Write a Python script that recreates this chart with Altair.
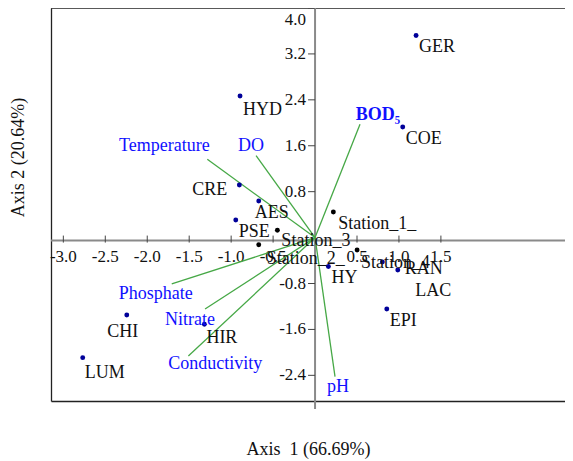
import altair as alt
import pandas as pd

# ---------------- data ----------------
species = ["GER", "HYD", "COE", "CRE", "AES", "PSE", "HY", "RAN", "LAC", "EPI", "CHI", "LUM", "HIR"]
species_x = [1.204, -0.894, 1.045, -0.902, -0.671, -0.945, 0.159, 0.986, 0.802, 0.855, -2.244, -2.769, -1.319]
species_y = [3.521, 2.467, 1.927, 0.916, 0.638, 0.307, -0.503, -0.564, -0.425, -1.244, -1.348, -2.092, -1.510]

stations = ["Station_1_", "Station_2_", "Station_3", "Station_4"]
station_x = [0.218, -0.671, -0.449, 0.501]
station_y = [0.446, -0.124, 0.127, -0.216]

variables = ["Temperature", "DO", "BOD\u2085", "Phosphate", "Nitrate", "Conductivity", "pH"]
var_x = [-1.284, -0.703, 0.536, -1.708, -1.311, -1.510, 0.238]
var_y = [1.364, 1.427, 1.974, -0.808, -1.244, -2.063, -2.423]

x_ticks = [-3.0, -2.5, -2.0, -1.5, -1.0, -0.5, 0.5, 1.0, 1.5]
y_ticks = [4.0, 3.2, 2.4, 1.6, 0.8, -0.8, -1.6, -2.4]

x_title = "Axis\u00a0\u00a01 (66.69%)"
y_title = "Axis 2 (20.64%)"

# ---------------- layout / style ----------------
W, H = 514, 393
FONT = "Liberation Serif"
BLUE_TXT = "#1010ff"
DOT_BLUE = "#000099"
GREEN = "#46a846"
GRAY = "#8a8a8a"

xs = alt.Scale(domain=[-3.147, 2.979], nice=False, zero=False)
ys = alt.Scale(domain=[-2.847, 4.0], nice=False, zero=False)
xa = alt.Axis(title=x_title, labels=False, ticks=False, grid=False, domain=True,
              domainColor="#222", domainWidth=1.3, titleFont=FONT, titleFontSize=18,
              titleFontWeight="normal", titleColor="#111", titleY=48, titleBaseline="middle")
ya = alt.Axis(title=y_title, labels=False, ticks=False, grid=False, domain=True,
              domainColor="#222", domainWidth=1.3, titleFont=FONT, titleFontSize=18,
              titleFontWeight="normal", titleColor="#111", titleX=-33, titleY=149,
              titleAngle=270, titleAlign="center", titleBaseline="middle")


def X(f):
    return alt.X(f, type="quantitative", scale=xs, axis=xa)


def Y(f):
    return alt.Y(f, type="quantitative", scale=ys, axis=ya)


sp = pd.DataFrame({"name": species, "x": species_x, "y": species_y})
st = pd.DataFrame({"name": stations, "x": station_x, "y": station_y})
vr = pd.DataFrame({"name": variables, "x": var_x, "y": var_y, "zero": 0.0})
xt = pd.DataFrame({"v": x_ticks, "label": [f"{v:.1f}" for v in x_ticks], "zero": 0.0})
yt = pd.DataFrame({"v": y_ticks, "label": [f"{v:.1f}" for v in y_ticks], "zero": 0.0})
origin = pd.DataFrame({"zero": [0.0]})

layers = []

# frame top border (left/bottom come from the axis domains)
layers.append(alt.Chart(origin).mark_rule(color="#222", strokeWidth=1.3).encode(
    x=alt.value(0), x2=alt.value(W), y=alt.value(0)))

# zero axis lines
layers.append(alt.Chart(origin).mark_rule(color=GRAY, strokeWidth=2, yOffset=3).encode(y=Y("zero")))
layers.append(alt.Chart(origin).mark_rule(color=GRAY, strokeWidth=2).encode(
    x=X("zero"), y=alt.value(0), y2=alt.value(H + 8)))

# tick marks
layers.append(alt.Chart(xt).mark_rule(color="#444", strokeWidth=1, yOffset=5, y2Offset=-2).encode(
    x=X("v"), y=Y("zero"), y2=alt.Y2("zero")))
layers.append(alt.Chart(yt).mark_rule(color="#444", strokeWidth=1, x2Offset=-7).encode(
    y=Y("v"), x=X("zero"), x2=alt.X2("zero")))

# tick labels
layers.append(alt.Chart(xt).mark_text(font=FONT, fontSize=17, dy=19, baseline="middle",
                                      align="center", color="#111").encode(
    x=X("v"), y=Y("zero"), text="label:N"))
layers.append(alt.Chart(yt).transform_filter("datum.v < 3.9").mark_text(
    font=FONT, fontSize=17, dx=-9, baseline="middle", align="right", color="#111").encode(
    x=X("zero"), y=Y("v"), text="label:N"))
layers.append(alt.Chart(yt).transform_filter("datum.v >= 3.9").mark_text(
    font=FONT, fontSize=17, dx=-9, dy=12, baseline="middle", align="right", color="#111").encode(
    x=X("zero"), y=Y("v"), text="label:N"))

# environmental vectors
layers.append(alt.Chart(vr).mark_rule(color=GREEN, strokeWidth=1.3).encode(
    x=X("zero"), y=Y("zero"), x2=alt.X2("x"), y2=alt.Y2("y")))

# points
layers.append(alt.Chart(sp).mark_circle(size=24, color=DOT_BLUE, opacity=1).encode(x=X("x"), y=Y("y")))
layers.append(alt.Chart(st).mark_circle(size=24, color="#000", opacity=1).encode(x=X("x"), y=Y("y")))

# labels
point_label_style = {
    "AES": ("left", -4, 12), "CRE": ("right", -12, 5), "CHI": ("center", -4, 17),
    "LUM": ("left", 2, 15), "HIR": ("left", 2, 14), "HYD": ("left", 3, 14),
    "RAN": ("left", 7, -1), "LAC": ("left", 33, 29),
    "Station_1_": ("left", 5, 12), "Station_2_": ("left", 8, 14),
    "Station_3": ("left", 4, 11), "Station_4": ("left", 4, 13),
}
var_label_style = {
    "Temperature": ("center", -43, -13), "DO": ("center", -5, -10),
    "BOD\u2085": ("center", 18, -9), "Phosphate": ("center", -16, 10),
    "Nitrate": ("center", -15, 11), "Conductivity": ("center", 27, 8),
    "pH": ("center", 3, 10),
}


def label_layer(df, name, align, dx, dy, color, weight="normal"):
    return alt.Chart(df).transform_filter(alt.datum.name == name).mark_text(
        font=FONT, fontSize=18, align=align, baseline="middle", dx=dx, dy=dy,
        color=color, fontWeight=weight).encode(x=X("x"), y=Y("y"), text="name:N")


for n in species:
    a, dx, dy = point_label_style.get(n, ("left", 3, 12))
    layers.append(label_layer(sp, n, a, dx, dy, "#111"))
for n in stations:
    a, dx, dy = point_label_style.get(n, ("left", 3, 12))
    layers.append(label_layer(st, n, a, dx, dy, "#111"))
for n in variables:
    a, dx, dy = var_label_style[n]
    w = "bold" if n.startswith("BOD") else "normal"
    layers.append(label_layer(vr, n, a, dx, dy, BLUE_TXT, w))

chart = alt.layer(*layers).properties(
    width=W, height=H,
    padding={"left": 43, "top": 0, "right": 0, "bottom": 59},
    autosize=alt.AutoSizeParams(type="none"),
).configure_view(stroke=None)

chart.save("out.html", embed_options={"renderer": "svg", "actions": False})
